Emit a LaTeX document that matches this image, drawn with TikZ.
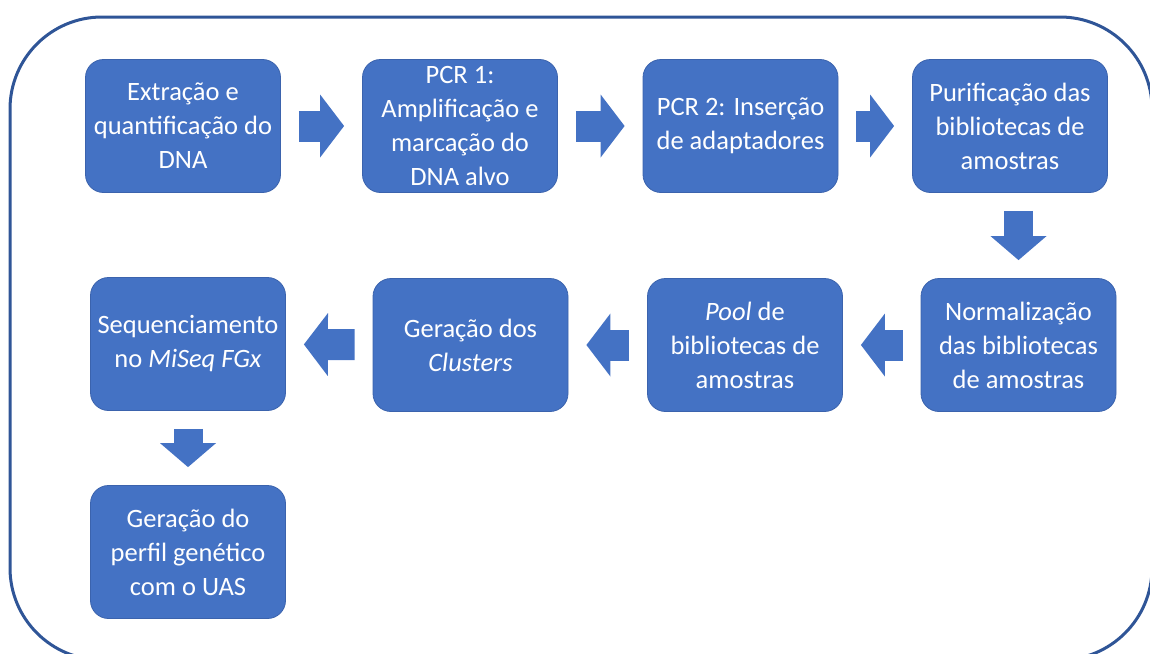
\documentclass[tikz,border=0pt]{standalone}
\usepackage{fontspec}
\setmainfont{Carlito}
\usetikzlibrary{arrows.meta,calc}
\definecolor{boxblue}{HTML}{4472C4}
\definecolor{lineblue}{HTML}{3B63AD}
\definecolor{frameblue}{HTML}{2F5597}
\tikzset{
  stepbox/.style={draw=lineblue, line width=0.8pt, fill=boxblue, rounded corners=18pt,
    minimum width=195pt, minimum height=133pt, inner sep=0pt, align=center,
    text=white, font=\fontsize{26.5}{34}\selectfont},
  flow/.style={draw=boxblue, line width=31pt, shorten <=18pt, shorten >=18pt,
    -{Triangle[width=63pt,length=24pt,line width=0pt]}},
  flowdown/.style={flow, line width=29pt,
    -{Triangle[width=56pt,length=24pt,line width=0pt]}}
}
\begin{document}
\begin{tikzpicture}[x=1pt,y=-1pt]
\clip (0,0) rectangle (1150,653);
\draw[frameblue, line width=3pt, rounded corners=92pt] (10,17) rectangle (1152,660);

\node[stepbox] (1) at (183,126) {Extração e\\quantificação do\\DNA};
\node[stepbox] (2) at (460,126) {PCR 1:\\Amplificação e\\marcação do\\DNA alvo};
\node[stepbox] (3) at (740.5,126) {PCR 2: Inserção\\de adaptadores};
\node[stepbox] (4) at (1010,126) {Purificação das\\bibliotecas de\\amostras};
\node[stepbox] (5) at (1018.5,345) {Normalização\\das bibliotecas\\de amostras};
\node[stepbox] (6) at (745,345) {\textit{Pool} de\\bibliotecas de\\amostras};
\node[stepbox] (7) at (470.5,345) {Geração dos\\\textit{Clusters}};
\node[stepbox] (8) at (188,344) {Sequenciamento\\no \textit{MiSeq FGx}};
\node[stepbox] (9) at (188,552) {Geração do\\perfil genético\\com o UAS};

\draw[flow] (1) -- (2);
\draw[flow] (2) -- (3);
\draw[flow] (3) -- (4);
\draw[flowdown] (4.south -| 5) -- (5);
\draw[flow] (5) -- (6);
\draw[flow] (6) -- (7);
\draw[flow] (7) -- (8);
\draw[flowdown] (8) -- (9);
\end{tikzpicture}
\end{document}
